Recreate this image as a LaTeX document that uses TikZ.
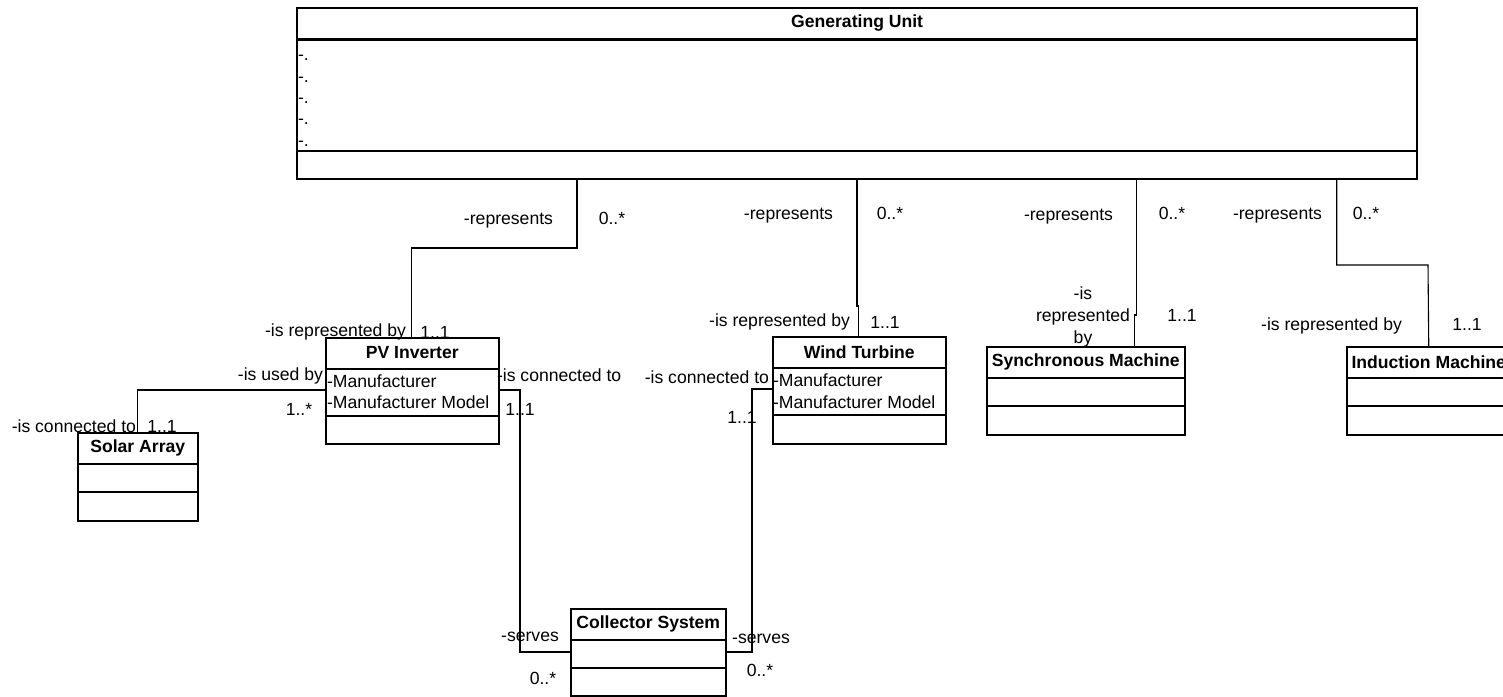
\documentclass[tikz,border=0pt]{standalone}
\usepackage{fontspec}
\setmainfont{Liberation Sans}
\newcommand\umlclass[9]{% name, style, x1, y1, x2, y2, first divider, second divider, title
  \pgfmathsetmacro\clw{#5-#3}%
  \pgfmathsetmacro\clh{#6-#4}%
  \pgfmathsetmacro\clty{(#4+#7)/2}%
  \node[#2, minimum width=\clw pt, minimum height=\clh pt] (#1) at (#3,#4) {};
  \draw[#2] (#1.west |- 0,#7) -- (#1.east |- 0,#7);
  \draw[#2] (#1.west |- 0,#8) -- (#1.east |- 0,#8);
  \node[ttl] (#1-title) at (#1.north |- 0,\clty) {#9};
}
\begin{document}
\begin{tikzpicture}[x=1pt,y=-1pt,
  font=\fontsize{17.6}{22}\selectfont,
  classbox/.style={draw=black, fill=white, line width=1.5pt, inner sep=0pt, anchor=north west},
  gubox/.style={classbox, line width=2.2pt},
  conn/.style={draw=black, line width=1.1pt},
  lbl/.style={inner sep=0pt, outer sep=0pt},
  ttl/.style={inner sep=0pt, font=\fontsize{17.6}{22}\selectfont\bfseries}]
\fill[white] (0,0) rectangle (1503,696);
\clip (0,0) rectangle (1503,696);
\useasboundingbox (0,0) rectangle (1503,696);

% classes
\umlclass{gu}{gubox}{296}{7}{1416}{178}{39.5}{151}{Generating Unit}
\foreach \yy [count=\i] in {58,80,101,122,144}
  \node[lbl, anchor=mid west] (gu-attr\i) at (298,\yy) {-.};

\umlclass{pv}{classbox}{325}{337}{498}{443}{369}{416}{PV Inverter}
\node[lbl, anchor=mid west] (pv-a1) at (327,385) {-Manufacturer};
\node[lbl, anchor=mid west] (pv-a2) at (327,406) {-Manufacturer Model};

\umlclass{solar}{classbox}{77}{432}{197}{520}{464}{492}{Solar Array}

\umlclass{wind}{classbox}{772}{336}{945}{443}{368}{415}{Wind Turbine}
\node[lbl, anchor=mid west] (wind-a1) at (773,384) {-Manufacturer};
\node[lbl, anchor=mid west] (wind-a2) at (773,406) {-Manufacturer Model};

\umlclass{sync}{classbox}{986}{346}{1184}{434}{378}{406}{Synchronous Machine}
\umlclass{ind}{classbox}{1346}{346}{1510}{434}{378}{406}{Induction Machine}
\umlclass{coll}{classbox}{570}{608}{725}{695}{640}{668}{Collector System}

% associations with the generating unit
\draw[conn] (gu.south -| 577,0) |- (411.5,248) -- (pv.north -| 411.5,0);
\draw[conn] (gu.south -| 857,0) -- (857,306) -- (858.5,306) -- (wind.north -| 858.5,0);
\draw[conn] (gu.south -| 1136.7,0) -- (1136.7,315) -- (1134.3,315) -- (sync.north -| 1134.3,0);
\draw[conn] (gu.south -| 1336.7,0) |- (1428,265) -- (ind.north);

% other associations
\draw[conn] (pv.west |- 0,390) -| (solar.north);
\draw[conn] (pv.east |- 0,390) -| (520,652) -- (coll.west |- 0,652);
\draw[conn] (wind.west |- 0,389) -| (752,652) -- (coll.east |- 0,652);

% role names and multiplicities
\node[lbl, anchor=mid east] (r1) at (553,222) {-represents};
\node[lbl] (m1) at (612,218) {0..*};
\node[lbl, anchor=mid east] (r2) at (406,334) {-is represented by};
\node[lbl] (m2) at (435,332) {1..1};

\node[lbl, anchor=mid east] (r3) at (833,217) {-represents};
\node[lbl] (m3) at (890,213) {0..*};
\node[lbl, anchor=mid east] (r4) at (850,324) {-is represented by};
\node[lbl] (m4) at (885,322) {1..1};

\node[lbl, anchor=mid east] (r5) at (1113,218) {-represents};
\node[lbl] (m5) at (1172,213) {0..*};
\node[lbl, align=center] (r6) at (1083,317) {-is\\represented\\by};
\node[lbl] (m6) at (1182,315) {1..1};

\node[lbl, anchor=mid east] (r7) at (1322,217) {-represents};
\node[lbl] (m7) at (1366,213) {0..*};
\node[lbl, anchor=mid east] (r8) at (1402,328) {-is represented by};
\node[lbl] (m8) at (1467,324) {1..1};

\node[lbl, anchor=mid east] (r9) at (323,378) {-is used by};
\node[lbl] (m9) at (299,409) {1..*};
\node[lbl, anchor=mid east] (r10) at (136,430) {-is connected to};
\node[lbl] (m10) at (162,426) {1..1};

\node[lbl, anchor=mid west] (r11) at (497,379) {-is connected to};
\node[lbl] (m11) at (520,409) {1..1};
\node[lbl, anchor=mid east] (r12) at (769,381) {-is connected to};
\node[lbl] (m12) at (742,417) {1..1};

\node[lbl] (r13) at (530,637) {-serves};
\node[lbl] (m13) at (543,678) {0..*};
\node[lbl] (r14) at (761,639) {-serves};
\node[lbl] (m14) at (760,670) {0..*};
\end{tikzpicture}
\end{document}
